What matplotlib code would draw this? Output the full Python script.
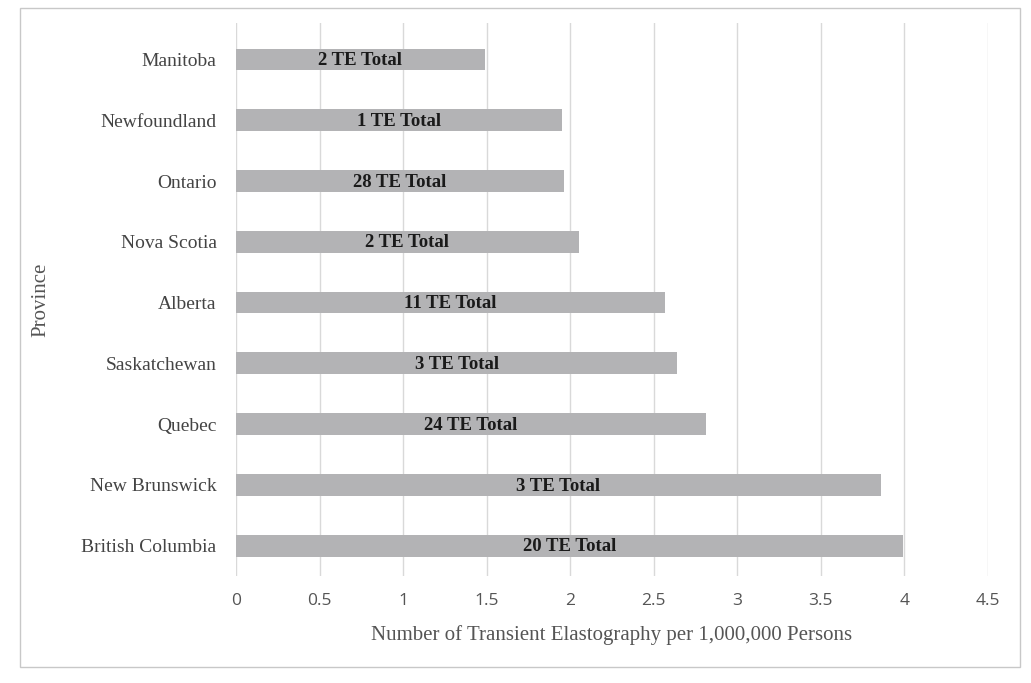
import matplotlib
matplotlib.use("Agg")
import matplotlib.pyplot as plt
from matplotlib.patches import Rectangle

provinces = ["British Columbia", "New Brunswick", "Quebec", "Saskatchewan", "Alberta",
             "Nova Scotia", "Ontario", "Newfoundland", "Manitoba"]
rates = [3.99, 3.86, 2.81, 2.64, 2.57, 2.05, 1.96, 1.95, 1.49]
totals = [20, 3, 24, 3, 11, 2, 28, 1, 2]
xticks = [0, 0.5, 1, 1.5, 2, 2.5, 3, 3.5, 4, 4.5]

fig = plt.figure(figsize=(10.31, 6.83), dpi=100)
fig.patches.append(Rectangle((20/1031, 16/683), 1000/1031, 659/683, transform=fig.transFigure,
                             fill=False, edgecolor="#c8c8c8", lw=1))
ax = fig.add_axes([236/1031, 1 - 576/683, 752/1031, 553/683])
y = range(len(provinces))
ax.barh(y, rates, height=0.36, color="#b3b3b5", zorder=2)
for i, (r, t) in enumerate(zip(rates, totals)):
    ax.text(r / 2, i - 0.02, f"{t} TE Total", ha="center", va="center", fontsize=13.5,
            fontweight="bold", family="Liberation Serif", color="#1a1a1a", zorder=3)
ax.set_xlim(0, 4.5)
ax.set_ylim(-0.5, 8.6)
ax.set_xticks(xticks)
ax.set_xticklabels([f"{v:g}" for v in xticks], family="Open Sans", fontsize=12.5, color="#555555")
ax.set_yticks(list(y))
ax.set_yticklabels(provinces, family="Liberation Serif", fontsize=14, color="#444444")
ax.grid(axis="x", color="#d9d9d9", lw=1, zorder=0)
for s in ax.spines.values():
    s.set_visible(False)
ax.tick_params(axis="y", length=0, pad=14)
ax.tick_params(axis="x", length=0, pad=12)
ax.set_xlabel("Number of Transient Elastography per 1,000,000 Persons", family="Liberation Serif",
              fontsize=15, color="#555555", labelpad=12)
ax.set_ylabel("Province", family="Liberation Serif", fontsize=15, color="#555555", labelpad=22)
fig.savefig("out.png")
